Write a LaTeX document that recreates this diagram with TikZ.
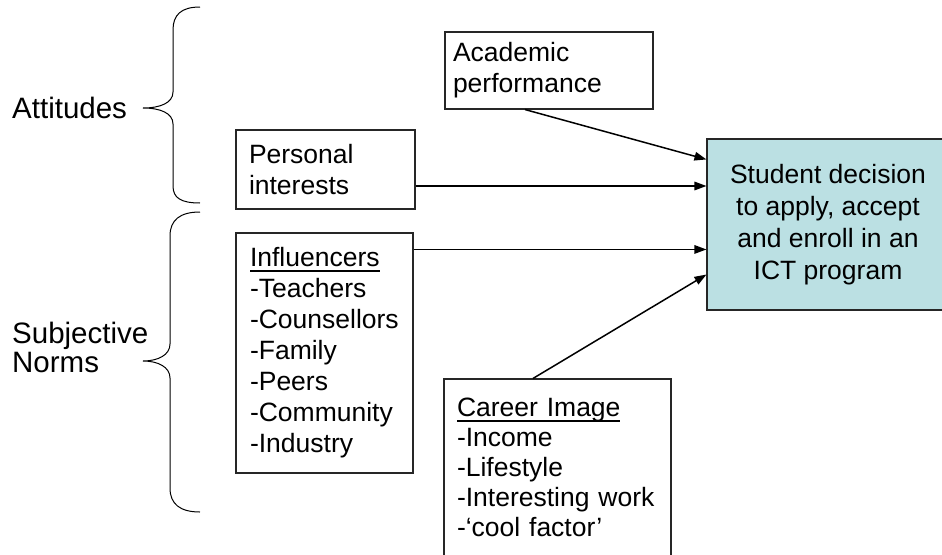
\documentclass[tikz,border=0pt]{standalone}
\usepackage{fontspec}
\setmainfont{Liberation Sans}
\usetikzlibrary{arrows.meta}
\definecolor{boxblue}{RGB}{187,224,227}
\newcommand{\myul}[1]{\setbox0\hbox{#1}\rlap{\rule[-5pt]{\wd0}{1.6pt}}\box0}
\begin{document}
\begin{tikzpicture}[x=1pt,y=-1pt,
  box/.style={draw=black!85,line width=1.1pt,rectangle,align=left,
    font=\fontsize{26.5}{31}\selectfont,inner ysep=0pt},
  lbl/.style={inner sep=0pt,align=left,font=\fontsize{29.5}{29}\selectfont},
  arr/.style={line width=1.5pt,-{Triangle[length=12pt,width=8.5pt]}},
  brace/.style={line width=1pt}]
\useasboundingbox (0,0) rectangle (942,554);

% braces
\draw[brace] (200,7) .. controls (181,7) and (173,15) .. (173,30) -- (173,92)
  .. controls (173,103) and (160,108) .. (143,108)
  .. controls (160,108) and (173,113) .. (173,124) -- (173,186)
  .. controls (173,198) and (181,203) .. (200,203);
\draw[brace] (200,212) .. controls (180,212) and (170,220) .. (170,236) -- (170,344)
  .. controls (170,355) and (158,361) .. (143,361)
  .. controls (158,361) and (170,367) .. (170,378) -- (170,488)
  .. controls (170,504) and (180,512) .. (200,512);

% labels
\node[lbl,anchor=base west] (att) at (12,118) {Attitudes};
\node[lbl,anchor=west] (subj) at (12,347) {Subjective\\Norms};

% boxes
\node[box,minimum width=208pt,minimum height=77pt,text width=192pt,inner xsep=8pt]
  (acad) at (549,70.5) {Academic\\performance};
\node[box,minimum width=179pt,minimum height=79pt,text width=153pt,inner xsep=13pt]
  (pers) at (325.5,169.5) {Personal\\interests};
\node[box,minimum width=177pt,minimum height=240pt,text width=149pt,inner xsep=14pt]
  (infl) at (324.5,353) {\myul{Influencers}\\-Teachers\\-Counsellors\\-Family\\-Peers\\-Community\\-Industry};
\node[box,minimum width=227pt,minimum height=177pt,text width=201pt,inner xsep=13pt,
  font=\fontsize{26.5}{30}\selectfont]
  (career) at (557.5,467.5) {\myul{Career Image}\\-Income\\-Lifestyle\\-Interesting work\\-‘cool factor’};
\node[box,fill=boxblue,minimum width=242pt,minimum height=171pt,align=center,
  font=\fontsize{26.5}{32}\selectfont]
  (student) at (828,224.5) {Student decision\\to apply, accept\\and enroll in an\\ICT program};

% connectors
\coordinate (a1) at ([xshift=-24pt]acad.south);
\coordinate (a2) at ([yshift=-21pt]student.north west);
\coordinate (p1) at ([yshift=-16.5pt]pers.east);
\coordinate (i1) at ([yshift=-17pt]infl.north east);
\coordinate (c1) at ([xshift=-24.5pt]career.north);
\coordinate (c2) at ([yshift=36pt]student.south west);
\draw[arr] (a1) -- (a2);
\draw[arr] (p1) -- (p1 -| student.west);
\draw[arr] (i1) -- (i1 -| student.west);
\draw[arr] (c1) -- (c2);
\end{tikzpicture}
\end{document}
